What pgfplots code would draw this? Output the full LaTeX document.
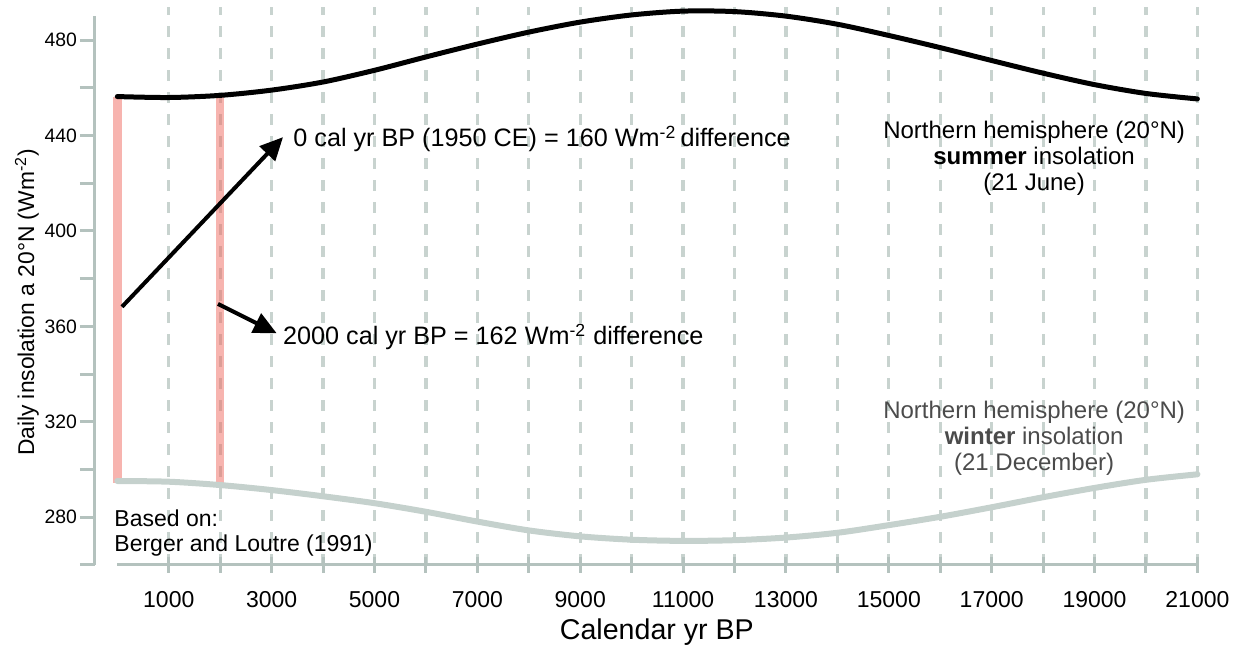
\documentclass[border=0pt]{standalone}
\usepackage{pgfplots}
\pgfplotsset{compat=1.18}
\usepackage{fontspec}
\setmainfont{Liberation Sans}
\usetikzlibrary{arrows.meta}
\definecolor{axisgray}{RGB}{180,194,190}
\definecolor{gridgray}{RGB}{200,211,207}
\definecolor{wintergray}{RGB}{197,209,205}
\definecolor{barred}{RGB}{240,105,95}
\definecolor{wintertext}{RGB}{75,75,75}
\pgfplotstableread{
x y
0 456.3
1000 455.9
2000 456.8
3000 459.0
4000 462.4
5000 467.3
6000 472.9
7000 478.3
8000 483.3
9000 487.5
10000 490.5
11000 492.1
12000 491.9
13000 490.0
14000 486.6
15000 481.9
16000 476.8
17000 471.4
18000 466.1
19000 461.3
20000 457.6
21000 455.3
}\summer
\pgfplotstableread{
x y
0 295.2
1000 294.9
2000 293.5
3000 291.4
4000 288.8
5000 285.9
6000 282.3
7000 278.2
8000 274.5
9000 272.0
10000 270.6
11000 270.1
12000 270.4
13000 271.5
14000 273.5
15000 276.7
16000 280.2
17000 284.2
18000 288.4
19000 292.3
20000 295.7
21000 298.0
}\winter
\begin{document}
\begin{tikzpicture}
\path[use as bounding box] (0,0) rectangle (621pt,323.5pt);
\begin{axis}[
  scale only axis,
  width=556.4pt, height=279.2pt,
  at={(47.45pt,41pt)}, anchor=south west,
  xmin=-436, xmax=21200, ymin=260, ymax=494,
  clip=false,
  scaled x ticks=false, scaled y ticks=false,
  axis lines*=left,
  axis line style={draw=none},
  tick align=center,
  major tick length=7.5pt,
  tick style={axisgray, line width=1.5pt},
  xtick={1000,2000,...,21000},
  xticklabels={1000,,3000,,5000,,7000,,9000,,11000,,13000,,15000,,17000,,19000,,21000},
  ytick={260,280,...,480},
  yticklabels={,280,,320,,360,,400,,440,,480},
  ytick style={xshift=-3.75pt},
  xmajorgrids,
  grid style={gridgray, line width=1.6pt, dash pattern=on 5.5pt off 5.5pt},
  xticklabel style={font=\fontsize{11.5}{13}\selectfont, anchor=north, inner sep=0pt, yshift=-9.5pt},
  yticklabel style={font=\fontsize{9.7}{11}\selectfont, anchor=east, inner sep=0pt, xshift=-5pt},
  xlabel={Calendar yr BP},
  ylabel={Daily insolation a 20°N (Wm\textsuperscript{-2})},
  every axis x label/.style={at={(axis description cs:0.505,-0.1343)}, anchor=base, font=\fontsize{14.3}{16}\selectfont},
  every axis y label/.style={at={(axis description cs:-0.061,0.47)}, rotate=90, anchor=center, font=\fontsize{11.4}{13}\selectfont},
]
% axis lines
\draw[axisgray, line width=1.5pt] (axis cs:-436,260) -- (axis cs:-436,490);
\draw[axisgray, line width=1.5pt] (axis cs:0,260) -- (axis cs:21000,260);
% red bars
\addplot[barred, opacity=0.5, line width=4.2pt] coordinates {(0,456.3) (0,294.4)};
\addplot[barred, opacity=0.5, line width=4.2pt] coordinates {(2000,457.0) (2000,292.1)};
% curves
\addplot[wintergray, line width=3pt, smooth, line cap=round] table[x=x,y=y] {\winter};
\addplot[black, line width=2.5pt, smooth, line cap=round] table[x=x,y=y] {\summer};
% arrows
\draw[-{Triangle[length=11.5pt,width=10.5pt]}, line width=2pt] (axis cs:91,368.2) -- (axis cs:3222,439.3);
\draw[-{Triangle[length=11.5pt,width=10.5pt]}, line width=2pt] (axis cs:1958,369.4) -- (axis cs:3099,357.1);
% annotations
\node[anchor=base west, inner sep=0pt, font=\fontsize{12.6}{15}\selectfont] at (axis cs:3416,435.2) {0 cal yr BP (1950 CE) = 160 Wm\textsuperscript{-2}\,difference};
\node[anchor=base west, inner sep=0pt, font=\fontsize{12.6}{15}\selectfont] at (axis cs:3216,352.2) {2000 cal yr BP = 162 Wm\textsuperscript{-2} difference};
\node[anchor=base, inner sep=0pt, font=\fontsize{12}{14}\selectfont] at (axis cs:17825,438.7) {Northern hemisphere (20°N)};
\node[anchor=base, inner sep=0pt, font=\fontsize{12}{14}\selectfont] at (axis cs:17825,427.8) {\textbf{summer} insolation};
\node[anchor=base, inner sep=0pt, font=\fontsize{12}{14}\selectfont] at (axis cs:17825,416.9) {(21 June)};
\node[anchor=base, inner sep=0pt, text=wintertext, font=\fontsize{12}{14}\selectfont] at (axis cs:17825,321.4) {Northern hemisphere (20°N)};
\node[anchor=base, inner sep=0pt, text=wintertext, font=\fontsize{12}{14}\selectfont] at (axis cs:17825,310.3) {\textbf{winter} insolation};
\node[anchor=base, inner sep=0pt, text=wintertext, font=\fontsize{12}{14}\selectfont] at (axis cs:17825,299.4) {(21 December)};
\node[anchor=base west, inner sep=0pt, font=\fontsize{11.5}{13}\selectfont] at (axis cs:-64,276.0) {Based on:};
\node[anchor=base west, inner sep=0pt, font=\fontsize{11.5}{13}\selectfont] at (axis cs:-64,265.6) {Berger and Loutre (1991)};
\end{axis}
\end{tikzpicture}
\end{document}
